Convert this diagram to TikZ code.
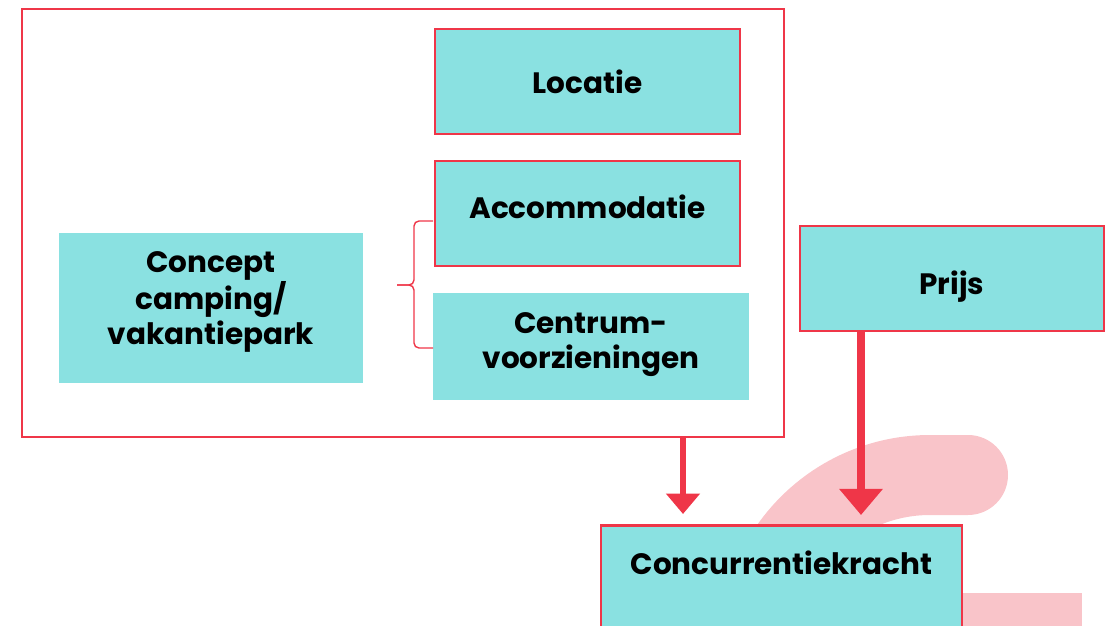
\documentclass[tikz,border=0pt]{standalone}
\usepackage{fontspec}
\setmainfont{Poppins}
\usepackage{tikz}
\usetikzlibrary{arrows.meta}
\definecolor{CampRed}{RGB}{239, 54, 72}
\definecolor{CampCyan}{RGB}{138, 225, 225}
\definecolor{CampPink}{RGB}{249, 196, 201}

\tikzset{
  topic/.style={fill=CampCyan, draw=CampRed, line width=2.5pt, inner sep=0pt,
    align=center, font=\fontsize{29.5}{35}\selectfont\bfseries},
  plaintopic/.style={topic, draw=none},
  bigarrow/.style={CampRed, -{Triangle[width=#1, length=0.62*#1]}}
}

\begin{document}
\begin{tikzpicture}[x=1pt, y=-1pt]
    \useasboundingbox (0,0) rectangle (1112,626);
    \clip (0,0) rectangle (1112,626);

    % Background swirl
    \fill[CampPink] (900,593) rectangle (1082,660);
    \draw[CampPink, line width=80pt, line cap=round]
        (968,475) -- (930,475) arc[start angle=-90, end angle=-180, radius=171];

    % Concept frame
    \node[draw=CampRed, line width=2.5pt, minimum width=762pt, minimum height=428pt] (frame) at (403,223) {};
    \node[plaintopic, minimum width=304pt, minimum height=150pt, text depth=20pt] (concept) at (211,308) {Concept\\camping/\\vakantiepark};
    \node[topic, minimum width=305pt, minimum height=105pt] (locatie) at (587.5,81.5) {Locatie};
    \node[topic, minimum width=305pt, minimum height=105pt, text height=21pt, text depth=12pt] (accom) at (587.5,213.5) {Accommodatie};
    \node[plaintopic, minimum width=316pt, minimum height=107pt, text depth=12pt] (centrum) at (591,346.5) {Centrum-\\voorzieningen};

    % Brace
    \draw[CampRed, line width=1.4pt, rounded corners=5pt]
        (433,221) -- (414,221) -- (414,285) -- (397,285);
    \draw[CampRed, line width=1.4pt, rounded corners=5pt]
        (397,285) -- (414,285) -- (414,348) -- (433,348);

    % Price and outcome
    \node[topic, minimum width=304pt, minimum height=105pt, text height=31pt, text depth=0pt] (prijs) at (952,278.5) {Prijs};
    \node[topic, anchor=north, minimum width=361pt, text height=21pt, text depth=120pt, inner ysep=28pt] (conc) at (781.5,524) {Concurrentiekracht};

    \coordinate (a1) at ([xshift=280pt]frame.south);
    \coordinate (a2) at ([xshift=-91pt]prijs.south);
    \draw[bigarrow=33pt, line width=6pt, shorten >=10pt] (a1) -- (a1 |- conc.north);
    \draw[bigarrow=42pt, line width=8pt, shorten >=9pt] (a2) -- (a2 |- conc.north);
\end{tikzpicture}
\end{document}
